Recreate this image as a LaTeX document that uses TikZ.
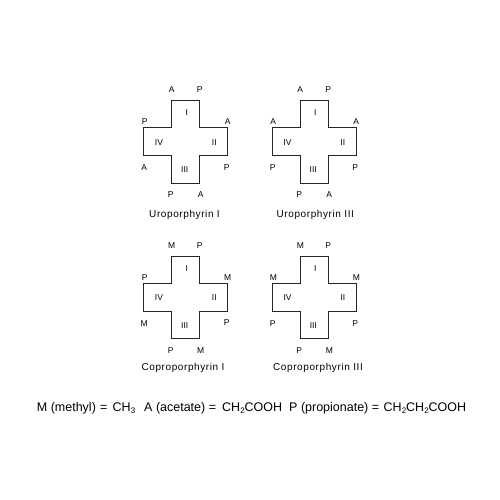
\documentclass[tikz,border=0pt]{standalone}
\usepackage{fontspec}
\setmainfont{Liberation Sans}
\newfontfamily\capfont[LetterSpace=6]{Liberation Sans}
\newcommand\sbs[1]{\raisebox{-2pt}{\fontsize{8}{8}\selectfont #1}}
\newcommand\crossbody[1]{%
  \draw[outline] (-14,-41.5) -- (14,-41.5) -- (14,-14) -- (42,-14) -- (42,13.5)
    -- (14,13.5) -- (14,41.2) -- (-14,41.2) -- (-14,13.5) -- (-42,13.5)
    -- (-42,-14) -- (-14,-14) -- cycle;
  \node[lab] (#1-I) at (1,-25.8) {I};
  \node[lab] (#1-II) at (28.6,3.2) {II};
  \node[lab] (#1-III) at (-1,31) {III};
  \node[lab] (#1-IV) at (-26.7,3.2) {IV};}
\newcommand\corners[9]{%
  \node[lab] (#1-tl) at (-14,-49) {#2};
  \node[lab] (#1-tr) at (14,-49) {#3};
  \node[lab] (#1-lu) at (-41,-17) {#4};
  \node[lab] (#1-ru) at (42,-17) {#5};
  \node[lab] (#1-ll) at (-41.5,29) {#6};
  \node[lab] (#1-rl) at (41,28.5) {#7};
  \node[lab] (#1-bl) at (-15,56) {#8};
  \node[lab] (#1-br) at (15,56) {#9};}
\begin{document}
\begin{tikzpicture}[x=1pt,y=-1pt,
  outline/.style={draw=black!85, line width=0.8pt},
  lab/.style={font=\fontsize{8.5}{10}\selectfont, anchor=base, inner sep=0pt},
  captext/.style={font=\capfont\fontsize{10}{12}\selectfont, anchor=base, inner sep=0pt},
  formula/.style={font=\fontsize{12.5}{14}\selectfont, anchor=base west, inner sep=0pt}]
\useasboundingbox[fill=white] (0,0) rectangle (500,500);

\begin{scope}[shift={(185.7,141.8)}]
  \crossbody{u1}
  \corners{u1}{A}{P}{P}{A}{A}{P}{P}{A}
\end{scope}
\begin{scope}[shift={(314.2,141.8)}]
  \crossbody{u3}
  \corners{u3}{A}{P}{A}{A}{P}{P}{P}{A}
\end{scope}
\begin{scope}[shift={(185.7,297.4)}]
  \crossbody{c1}
  \corners{c1}{M}{P}{P}{M}{M}{P}{P}{M}
\end{scope}
\begin{scope}[shift={(314.3,297.5)}]
  \crossbody{c3}
  \corners{c3}{M}{P}{M}{M}{P}{P}{P}{M}
\end{scope}

\node[captext] (capu1) at (184.5,217) {Uroporphyrin I};
\node[captext] (capu3) at (315.3,217) {Uroporphyrin III};
\node[captext] (capc1) at (183,370.5) {Coproporphyrin I};
\node[captext] (capc3) at (318,370.5) {Coproporphyrin III};

\node[formula] (fm) at (36.7,411) {M (methyl)};
\node[formula] (fmeq) at (100,411) {=};
\node[formula] (fmv) at (112.5,411) {CH\sbs{3}};
\node[formula] (fa) at (144,411) {A (acetate) =};
\node[formula] (fav) at (222,411) {CH\sbs{2}COOH};
\node[formula] (fp) at (289,411) {P (propionate) =};
\node[formula] (fpv) at (383.5,411) {CH\sbs{2}CH\sbs{2}COOH};
\end{tikzpicture}
\end{document}
